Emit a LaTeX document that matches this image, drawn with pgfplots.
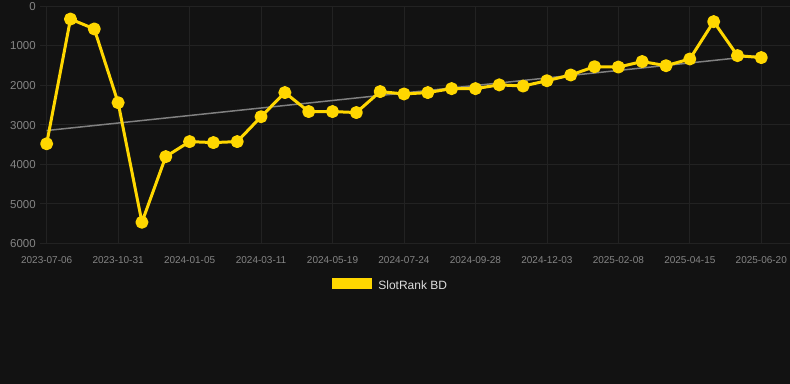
\documentclass[border=0pt]{standalone}
\usepackage{pgfplots}
\pgfplotsset{compat=1.18}
\usepackage{fontspec}
\setmainfont{Liberation Sans}
\definecolor{bg}{HTML}{121212}
\definecolor{gold}{HTML}{FFD700}
\definecolor{gridc}{HTML}{222222}
\definecolor{tickc}{HTML}{858585}
\definecolor{trendc}{HTML}{808080}
\definecolor{legc}{HTML}{DDDDDD}
\begin{document}
\begin{tikzpicture}[x=1pt,y=1pt]
\fill[bg] (0,0) rectangle (790,384);
\begin{axis}[
  at={(40pt,140.7pt)}, anchor=south west,
  scale only axis, width=750pt, height=237.3pt,
  xmin=-0.28, xmax=31.19, ymin=0, ymax=6000, y dir=reverse,
  xtick={0,3,...,30},
  xticklabels={2023-07-06,2023-10-31,2024-01-05,2024-03-11,2024-05-19,2024-07-24,2024-09-28,2024-12-03,2025-02-08,2025-04-15,2025-06-20},
  ytick={0,1000,2000,3000,4000,5000,6000},
  yticklabels={0,1000,2000,3000,4000,5000,6000},
  grid=major, major grid style={gridc, line width=0.7pt},
  axis line style={draw=none}, major tick length=0pt,
  tick label style={text=tickc},
  yticklabel style={font=\fontsize{11.5}{13}\selectfont, anchor=east, inner sep=0pt, xshift=-4pt, yshift=-0.5pt},
  xticklabel style={font=\fontsize{10}{12}\selectfont, anchor=base, inner sep=0pt, yshift=-20pt},
  legend style={at={(axis description cs:0.3897,-0.1730)}, anchor=west, draw=none, fill=none,
    inner sep=0pt, outer sep=0pt, text=legc, font=\fontsize{12}{14}\selectfont,
    nodes={inner sep=0pt}, column sep=6.3pt},
  legend image code/.code={\path[fill=gold, draw=none] (0pt,-3.3pt) rectangle (40pt,8pt);},
]
\addplot[trendc, line width=1.5pt, forget plot] coordinates {(0,3150) (30,1250)};
\addplot[gold, line width=3pt, line join=round, mark=*, mark size=5pt, mark options={solid, fill=gold, draw=none}]
coordinates {
(0,3485) (1,330) (2,580) (3,2445) (4,5470) (5,3810) (6,3430) (7,3455) (8,3430) (9,2800)
(10,2190) (11,2670) (12,2670) (13,2695) (14,2165) (15,2225) (16,2190) (17,2090) (18,2090) (19,1995)
(20,2025) (21,1890) (22,1745) (23,1535) (24,1545) (25,1405) (26,1510) (27,1340) (28,395) (29,1255) (30,1305)
};
\addlegendentry{SlotRank BD}
\end{axis}
\end{tikzpicture}
\end{document}
